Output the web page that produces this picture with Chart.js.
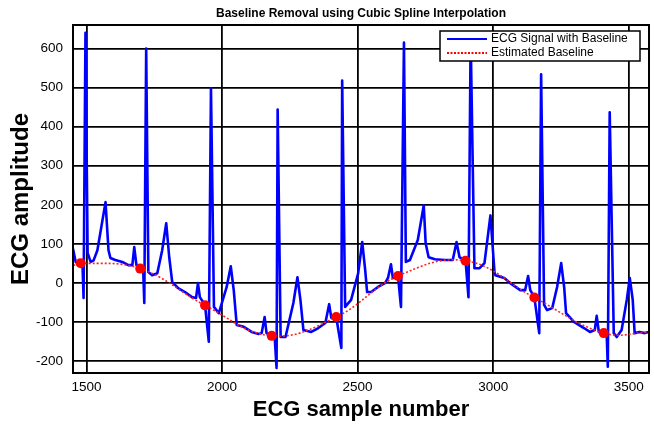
<!DOCTYPE html>
<html>
<head>
<meta charset="utf-8">
<script src="https://cdn.jsdelivr.net/npm/chart.js@4.4.1/dist/chart.umd.min.js"></script>
<style>
  html, body { margin: 0; padding: 0; background: #fff; }
</style>
</head>
<body>
<canvas id="ecgChart" width="654" height="427"></canvas>
<script>
// --- Data ---
const chartTitle = "Baseline Removal using Cubic Spline Interpolation";
const seriesLabels = ["ECG Signal with Baseline", "Estimated Baseline"];

// ECG trace: sample number / amplitude, one line per beat
const ecgSamples = [
  1450, 1460, 1478, 1485, 1489, 1496,
  1504, 1507, 1515, 1526, 1540, 1570, 1581, 1588, 1606, 1632, 1654, 1669, 1676, 1684, 1698, 1709, 1713, 1720,
  1728, 1742, 1761, 1779, 1794, 1805, 1816, 1838, 1863, 1889, 1904, 1911, 1918, 1937, 1951, 1959,
  1970, 1988, 2017, 2032, 2043, 2054, 2080, 2109, 2135, 2146, 2157, 2164, 2183, 2194, 2201, 2205,
  2216, 2234, 2263, 2278, 2289, 2300, 2329, 2355, 2381, 2395, 2403, 2421, 2440, 2443,
  2454, 2476, 2502, 2517, 2528, 2535, 2550, 2575, 2601, 2612, 2623, 2630, 2649, 2660, 2671,
  2678, 2693, 2722, 2744, 2751, 2762, 2785, 2821, 2851, 2865, 2876, 2898, 2909, 2917,
  2931, 2950, 2968, 2990, 3005, 3008, 3041, 3063, 3100, 3118, 3129, 3137, 3152, 3170, 3177,
  3188, 3199, 3218, 3236, 3251, 3262, 3269, 3298, 3335, 3357, 3375, 3382, 3390, 3405, 3419, 3423, 3430,
  3445, 3456, 3474, 3493, 3504, 3515, 3522, 3540, 3559, 3575,
];
const ecgAmplitude = [
  88, 54, 51, 48, -38, 640,
  76, 71, 54, 58, 84, 207, 84, 64, 59, 54, 46, 46, 92, 46, 38, 33, -51, 600,
  28, 20, 25, 84, 153, 66, 3, -13, -23, -36, -38, 0, -36, -56, -150, 498,
  -61, -77, -10, 43, -18, -107, -112, -125, -130, -128, -87, -128, -135, -138, -217, 444,
  -138, -138, -51, 15, -43, -120, -125, -115, -102, -54, -89, -87, -166, 518,
  -61, -43, 25, 105, 33, -23, -23, -10, 0, 13, 48, 13, 18, -61, 615,
  54, 59, 110, 199, 102, 66, 61, 59, 59, 105, 66, 59, -36, 630,
  38, 38, 51, 173, 28, 20, 13, 0, -18, -18, 18, -18, -36, -128, 534,
  -56, -69, -64, -10, 51, -10, -77, -99, -115, -125, -120, -84, -125, -128, -133, -214, 437,
  -128, -138, -120, -43, 13, -43, -128, -125, -128, -125,
];

// Spline knots (red dots) and the ends of the estimated baseline
const knotSamples = [1478, 1698, 1937, 2183, 2421, 2649, 2898, 3152, 3408];
const knotAmplitude = [51, 37, -57, -135, -87, 18, 57, -37, -128];
const baselineSamples = [1450, ...knotSamples, 3575];
const baselineAmplitude = [45, ...knotAmplitude, -126];

const xTicks = [1500, 2000, 2500, 3000, 3500];
const yTicks = [-200, -100, 0, 100, 200, 300, 400, 500, 600];

const toPoints = (xs, ys) => xs.map((x, i) => ({ x: x, y: ys[i] }));

// --- Frame, title and legend drawn over the plot ---
const decorPlugin = {
  id: "decor",
  afterDraw(chart) {
    const { ctx, chartArea: a } = chart;
    ctx.save();
    ctx.strokeStyle = "#000";
    ctx.lineWidth = 2;
    ctx.strokeRect(a.left, a.top, a.right - a.left, a.bottom - a.top);

    ctx.fillStyle = "#000";
    ctx.font = 'bold 12px "Liberation Sans", Arial, sans-serif';
    ctx.textAlign = "center";
    ctx.textBaseline = "middle";
    ctx.fillText(chartTitle, (a.left + a.right) / 2, 14);

    // legend box
    const bx = a.right - 209, by = a.top + 6, bw = 200, bh = 30;
    ctx.fillStyle = "#fff";
    ctx.fillRect(bx, by, bw, bh);
    ctx.lineWidth = 1.5;
    ctx.strokeRect(bx, by, bw, bh);

    ctx.lineWidth = 2;
    ctx.strokeStyle = "#0000ff";
    ctx.beginPath();
    ctx.moveTo(bx + 7, by + 8);
    ctx.lineTo(bx + 47, by + 8);
    ctx.stroke();

    ctx.strokeStyle = "#ff0000";
    ctx.setLineDash([2, 1.5]);
    ctx.beginPath();
    ctx.moveTo(bx + 7, by + 22);
    ctx.lineTo(bx + 47, by + 22);
    ctx.stroke();
    ctx.setLineDash([]);

    ctx.fillStyle = "#000";
    ctx.font = '12px "Liberation Sans", Arial, sans-serif';
    ctx.textAlign = "left";
    ctx.fillText(seriesLabels[0], bx + 51, by + 8);
    ctx.fillText(seriesLabels[1], bx + 51, by + 22);
    ctx.restore();
  },
};

const ctxEcg = document.getElementById("ecgChart").getContext("2d");

new Chart(ctxEcg, {
  type: "line",
  data: {
    datasets: [
      {
        label: seriesLabels[1] + " knots",
        data: toPoints(knotSamples, knotAmplitude),
        showLine: false,
        pointRadius: 5,
        pointBackgroundColor: "#ff0000",
        pointBorderColor: "#ff0000",
        pointBorderWidth: 0,
        order: 0,
      },
      {
        label: seriesLabels[1],
        data: toPoints(baselineSamples, baselineAmplitude),
        borderColor: "#ff2020",
        borderWidth: 1.6,
        borderDash: [2, 2],
        tension: 0.4,
        pointRadius: 0,
        order: 1,
      },
      {
        label: seriesLabels[0],
        data: toPoints(ecgSamples, ecgAmplitude),
        borderColor: "#0000ff",
        borderWidth: 2.6,
        borderJoinStyle: "round",
        tension: 0,
        pointRadius: 0,
        order: 2,
      },
    ],
  },
  options: {
    responsive: false,
    animation: false,
    devicePixelRatio: 1,
    layout: { padding: { top: 25, right: 2, left: 0, bottom: 0 } },
    plugins: {
      legend: { display: false },
      title: { display: false },
      tooltip: { enabled: false },
    },
    scales: {
      x: {
        type: "linear",
        min: 1450,
        max: 3575,
        afterBuildTicks: (scale) => {
          scale.ticks = xTicks.map((v) => ({ value: v }));
        },
        afterFit: (scale) => {
          scale.height = 54;
        },
        grid: { color: "#000", lineWidth: 1.8, drawTicks: false },
        border: { display: false },
        ticks: {
          color: "#000",
          padding: 6,
          maxRotation: 0,
          font: { family: '"Liberation Sans", Arial, sans-serif', size: 13.5 },
          callback: (v) => v,
        },
        title: {
          display: true,
          text: "ECG sample number",
          color: "#000",
          font: { family: '"Liberation Sans", Arial, sans-serif', size: 22, weight: "bold" },
          padding: { top: 0, bottom: 4 },
        },
      },
      y: {
        min: -230,
        max: 660,
        afterBuildTicks: (scale) => {
          scale.ticks = yTicks.map((v) => ({ value: v }));
        },
        afterFit: (scale) => {
          scale.width = 73;
        },
        grid: { color: "#000", lineWidth: 1.8, drawTicks: false },
        border: { display: false },
        ticks: {
          color: "#000",
          padding: 10,
          font: { family: '"Liberation Sans", Arial, sans-serif', size: 13.5 },
          callback: (v) => v,
        },
        title: {
          display: true,
          text: "ECG amplitude",
          color: "#000",
          font: { family: '"Liberation Sans", Arial, sans-serif', size: 24, weight: "bold" },
          padding: { top: 7, bottom: 0 },
        },
      },
    },
  },
  plugins: [decorPlugin],
});
</script>
</body>
</html>
